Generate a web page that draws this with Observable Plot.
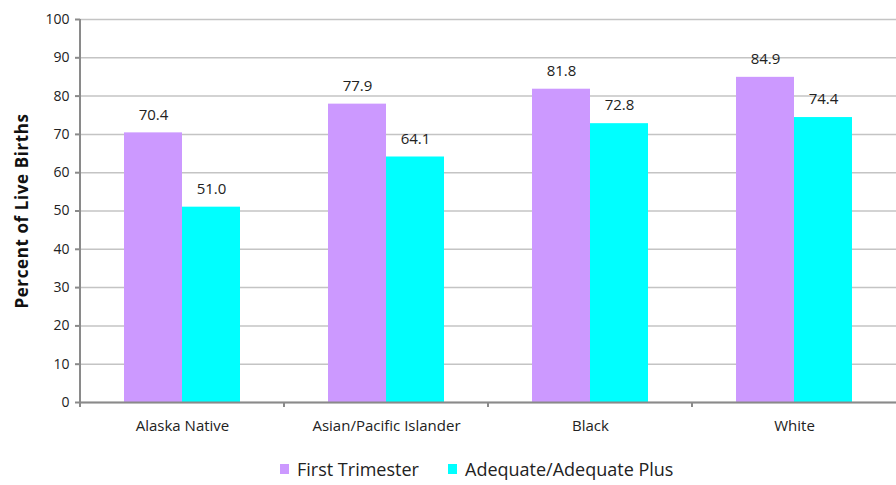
<!DOCTYPE html>
<html><head><meta charset="utf-8">
<script src="https://cdn.jsdelivr.net/npm/d3@7"></script>
<script src="https://cdn.jsdelivr.net/npm/@observablehq/plot@0.6"></script>
<style>
body{margin:0;background:#fff;font-family:"Open Sans",sans-serif;}
#chart{width:896px;height:445px;}
#legend{position:relative;width:896px;height:40px;font-size:18px;color:#222;}
#legend .sw{position:absolute;top:19px;width:9px;height:10px;}
#legend .lb{position:absolute;top:11px;line-height:26px;white-space:nowrap;}
</style></head>
<body><div id="chart"></div><div id="legend"></div>
<script>
const categories = ["Alaska Native", "Asian/Pacific Islander", "Black", "White"];
const series = ["First Trimester", "Adequate/Adequate Plus"];
const firstTrimester = [70.4, 77.9, 81.8, 84.9];
const adequate = [51.0, 64.1, 72.8, 74.4];
const yTicks = [0, 10, 20, 30, 40, 50, 60, 70, 80, 90, 100];
const colors = ["#CC99FF", "#00FFFF"];

const data = categories.flatMap((c, i) => [
  {category: c, series: series[0], value: firstTrimester[i]},
  {category: c, series: series[1], value: adequate[i]}
]);

const chart = Plot.plot({
  width: 896, height: 445,
  marginTop: 19, marginBottom: 43, marginLeft: 80, marginRight: 0,
  style: {fontFamily: '"Open Sans", sans-serif', fontSize: "14px", color: "#222", background: "#fff"},
  fx: {domain: categories, padding: 0, label: null, axis: null},
  x: {domain: series, paddingInner: 0, paddingOuter: 0.75, axis: null},
  y: {domain: [0, 100], label: null},
  color: {domain: series, range: colors},
  marks: [
    Plot.gridY(yTicks, {stroke: "#c4c4c4", strokeOpacity: 1, strokeWidth: 1.5}),
    Plot.barY(data, {fx: "category", x: "series", y: "value", fill: "series"}),
    Plot.text(data, {fx: "category", x: "series", y: "value", text: d => d.value.toFixed(1), dy: -18, lineAnchor: "middle", fontSize: 15, fill: "#222"}),
    Plot.ruleY([0], {stroke: "#8a8a8a", strokeWidth: 2}),
    Plot.axisY(yTicks, {tickSize: 5, tickPadding: 6, stroke: "#8a8a8a", strokeWidth: 2, fill: "#222", label: null, fontSize: 14}),
    Plot.axisY([], {label: "Percent of Live Births", labelAnchor: "center", labelArrow: "none", labelOffset: 65, tickSize: 0, fontSize: 17, fontWeight: "bold", fill: "#111"}),
    Plot.axisFx({anchor: "bottom", tickSize: 0, tickPadding: 18, label: null, fontSize: 15, fill: "#222"})
  ]
});
document.getElementById("chart").appendChild(chart);

// y-axis line and category separator ticks, placed with the chart's own scales
const svg = d3.select(chart);
svg.selectAll("text").filter(function () { return this.textContent === "Percent of Live Births"; })
  .style("letter-spacing", "0.6px");
const ys = chart.scale("y"), fxs = chart.scale("fx");
const y0 = ys.apply(0), y100 = ys.apply(100);
const g = svg.append("g").attr("stroke", "#8a8a8a").attr("stroke-width", 2);
g.append("line").attr("x1", fxs.apply(categories[0])).attr("x2", fxs.apply(categories[0]))
  .attr("y1", y100).attr("y2", y0 + 1);
categories.forEach(c => {
  const x = fxs.apply(c);
  g.append("line").attr("x1", x).attr("x2", x).attr("y1", y0).attr("y2", y0 + 5);
});

// legend
const legend = d3.select("#legend");
const swX = [280, 448], lbX = [297, 465];
series.forEach((s, i) => {
  legend.append("div").attr("class", "sw").style("left", swX[i] + "px").style("background", colors[i]);
  legend.append("div").attr("class", "lb").style("left", lbX[i] + "px").text(s);
});
</script>
</body></html>
